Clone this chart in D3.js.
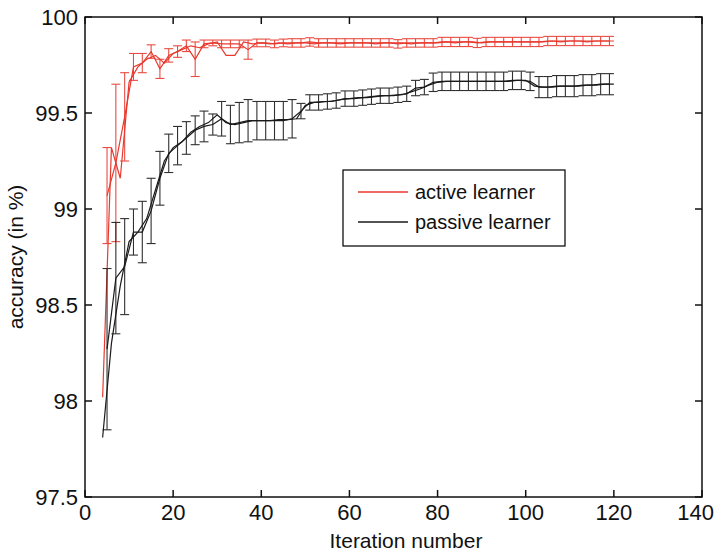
<!DOCTYPE html>
<html>
<head>
<meta charset="utf-8">
<script src="https://cdn.jsdelivr.net/npm/d3@7"></script>
<style>
  body { margin: 0; background: #fff; }
  text { font-family: "Liberation Sans", Arial, sans-serif; }
</style>
</head>
<body>
<script>
const width = 715;
const height = 554;

// iterations with error bars (odd) and for the plain trace (even)
const itersOdd = [5, 7, 9, 11, 13, 15, 17, 19, 21, 23, 25, 27, 29, 31, 33, 35, 37, 39, 41, 43, 45, 47, 49, 51, 53, 55, 57, 59, 61, 63, 65, 67, 69, 71, 73, 75, 77, 79, 81, 83, 85, 87, 89, 91, 93, 95, 97, 99, 101, 103, 105, 107, 109, 111, 113, 115, 117, 119];
const itersEven = [4, 6, 8, 10, 12, 14, 16, 18, 20, 22, 24, 26, 28, 30, 32, 34, 36, 38, 40, 42, 44, 46, 48, 50, 52, 54, 56, 58, 60, 62, 64, 66, 68, 70, 72, 74, 76, 78, 80, 82, 84, 86, 88, 90, 92, 94, 96, 98, 100, 102, 104, 106, 108, 110, 112, 114, 116, 118, 120];

// active learner
const activeMean = [99.07, 99.24, 99.48, 99.74, 99.76, 99.82, 99.73, 99.80, 99.82, 99.85, 99.78, 99.86, 99.865, 99.86, 99.86, 99.86, 99.83, 99.865, 99.865, 99.86, 99.865, 99.865, 99.865, 99.87, 99.865, 99.865, 99.865, 99.865, 99.865, 99.865, 99.865, 99.865, 99.865, 99.86, 99.865, 99.865, 99.865, 99.865, 99.87, 99.87, 99.87, 99.87, 99.865, 99.87, 99.87, 99.87, 99.87, 99.87, 99.87, 99.87, 99.875, 99.875, 99.875, 99.875, 99.875, 99.875, 99.875, 99.875];
const activeErr = [0.25, 0.41, 0.23, 0.07, 0.05, 0.035, 0.05, 0.035, 0.03, 0.03, 0.09, 0.02, 0.015, 0.02, 0.02, 0.02, 0.05, 0.02, 0.02, 0.02, 0.02, 0.022, 0.022, 0.022, 0.022, 0.022, 0.022, 0.022, 0.022, 0.022, 0.022, 0.022, 0.022, 0.022, 0.022, 0.022, 0.022, 0.022, 0.024, 0.024, 0.024, 0.024, 0.024, 0.024, 0.024, 0.024, 0.024, 0.024, 0.024, 0.024, 0.024, 0.024, 0.024, 0.024, 0.024, 0.024, 0.024, 0.024];
const activeTrace = [98.02, 99.32, 99.16, 99.66, 99.74, 99.78, 99.80, 99.76, 99.81, 99.83, 99.85, 99.84, 99.86, 99.87, 99.80, 99.80, 99.87, 99.86, 99.865, 99.86, 99.865, 99.86, 99.865, 99.865, 99.86, 99.865, 99.865, 99.86, 99.865, 99.865, 99.865, 99.86, 99.865, 99.865, 99.865, 99.86, 99.865, 99.865, 99.865, 99.87, 99.865, 99.87, 99.87, 99.865, 99.87, 99.87, 99.87, 99.87, 99.87, 99.87, 99.87, 99.875, 99.87, 99.875, 99.875, 99.87, 99.875, 99.875, 99.875];

// passive learner
const passiveMean = [98.27, 98.64, 98.70, 98.88, 98.88, 98.99, 99.16, 99.29, 99.33, 99.37, 99.41, 99.43, 99.44, 99.47, 99.44, 99.45, 99.46, 99.46, 99.46, 99.46, 99.46, 99.47, 99.51, 99.555, 99.555, 99.56, 99.565, 99.575, 99.575, 99.58, 99.585, 99.59, 99.59, 99.595, 99.60, 99.63, 99.635, 99.66, 99.665, 99.665, 99.665, 99.665, 99.665, 99.665, 99.665, 99.665, 99.67, 99.67, 99.665, 99.635, 99.635, 99.64, 99.64, 99.64, 99.645, 99.645, 99.65, 99.65];
const passiveErr = [0.42, 0.29, 0.25, 0.12, 0.16, 0.17, 0.14, 0.10, 0.10, 0.085, 0.075, 0.08, 0.055, 0.09, 0.10, 0.105, 0.11, 0.10, 0.10, 0.10, 0.10, 0.10, 0.04, 0.04, 0.04, 0.04, 0.04, 0.04, 0.04, 0.04, 0.04, 0.04, 0.04, 0.04, 0.04, 0.04, 0.04, 0.048, 0.048, 0.048, 0.048, 0.048, 0.048, 0.048, 0.048, 0.048, 0.048, 0.048, 0.048, 0.055, 0.055, 0.055, 0.055, 0.055, 0.055, 0.055, 0.055, 0.055];
const passiveTrace = [97.81, 98.30, 98.60, 98.83, 98.88, 98.95, 99.10, 99.25, 99.32, 99.35, 99.40, 99.43, 99.45, 99.49, 99.45, 99.44, 99.45, 99.46, 99.46, 99.46, 99.465, 99.465, 99.47, 99.54, 99.555, 99.56, 99.56, 99.57, 99.575, 99.58, 99.58, 99.585, 99.59, 99.59, 99.595, 99.61, 99.625, 99.645, 99.66, 99.665, 99.665, 99.665, 99.665, 99.665, 99.665, 99.665, 99.665, 99.67, 99.67, 99.64, 99.635, 99.635, 99.64, 99.64, 99.64, 99.645, 99.645, 99.65, 99.65];

const xTicks = [0, 20, 40, 60, 80, 100, 120, 140];
const yTicks = [97.5, 98, 98.5, 99, 99.5, 100];
const legendLabels = ['active learner', 'passive learner'];
const colors = ['#e8392e', '#1a1a1a'];

const margin = {top: 17, right: 13, bottom: 57, left: 85};
const iw = width - margin.left - margin.right;
const ih = height - margin.top - margin.bottom;

const svg = d3.select('body')
    .append('svg')
    .attr('width', width)
    .attr('height', height);

const x = d3.scaleLinear().domain([0, 140]).range([margin.left, margin.left + iw]);
const y = d3.scaleLinear().domain([97.5, 100]).range([margin.top + ih, margin.top]);

svg.append('clipPath').attr('id', 'plot')
    .append('rect')
    .attr('x', margin.left).attr('y', margin.top)
    .attr('width', iw).attr('height', ih);

const plot = svg.append('g').attr('clip-path', 'url(#plot)');

const series = [
    {mean: activeMean, err: activeErr, trace: activeTrace, color: colors[0]},
    {mean: passiveMean, err: passiveErr, trace: passiveTrace, color: colors[1]}
];

const line = d3.line().x(d => x(d[0])).y(d => y(d[1]));
const cap = 4.5;

series.forEach(s => {
    const g = plot.append('g');
    const pts = itersOdd.map((it, i) => [it, s.mean[i], s.err[i]]);
    const tr = itersEven.map((it, i) => [it, s.trace[i]]);

    // plain trace
    g.append('path')
        .attr('d', line(tr))
        .attr('fill', 'none')
        .attr('stroke', s.color)
        .attr('stroke-width', 1.2);

    // mean line with error bars
    g.append('path')
        .attr('d', line(pts))
        .attr('fill', 'none')
        .attr('stroke', s.color)
        .attr('stroke-width', 1.2);

    const bars = g.selectAll('g.bar')
        .data(pts)
        .enter()
        .append('g')
        .attr('stroke', s.color)
        .attr('stroke-width', 1.1)
        .attr('opacity', 0.9);

    bars.append('line')
        .attr('x1', d => x(d[0])).attr('x2', d => x(d[0]))
        .attr('y1', d => y(d[1] - d[2])).attr('y2', d => y(d[1] + d[2]));
    bars.append('line')
        .attr('x1', d => x(d[0]) - cap).attr('x2', d => x(d[0]) + cap)
        .attr('y1', d => y(d[1] + d[2])).attr('y2', d => y(d[1] + d[2]));
    bars.append('line')
        .attr('x1', d => x(d[0]) - cap).attr('x2', d => x(d[0]) + cap)
        .attr('y1', d => y(d[1] - d[2])).attr('y2', d => y(d[1] - d[2]));
});

// axes, matlab style: inward ticks on all four sides
const tickLen = 7;
const axes = svg.append('g').attr('stroke', '#111').attr('stroke-width', 1.5);

axes.selectAll('line.xt')
    .data(xTicks)
    .enter()
    .append('line')
    .attr('x1', d => x(d)).attr('x2', d => x(d))
    .attr('y1', margin.top + ih).attr('y2', margin.top + ih - tickLen);
axes.selectAll('line.xt2')
    .data(xTicks)
    .enter()
    .append('line')
    .attr('x1', d => x(d)).attr('x2', d => x(d))
    .attr('y1', margin.top).attr('y2', margin.top + tickLen);
axes.selectAll('line.yt')
    .data(yTicks)
    .enter()
    .append('line')
    .attr('x1', margin.left).attr('x2', margin.left + tickLen)
    .attr('y1', d => y(d)).attr('y2', d => y(d));
axes.selectAll('line.yt2')
    .data(yTicks)
    .enter()
    .append('line')
    .attr('x1', margin.left + iw).attr('x2', margin.left + iw - tickLen)
    .attr('y1', d => y(d)).attr('y2', d => y(d));

axes.append('rect')
    .attr('x', margin.left).attr('y', margin.top)
    .attr('width', iw).attr('height', ih)
    .attr('fill', 'none');

// x tick labels, the last one kept inside the window
const xLabels = svg.selectAll('text.xl')
    .data(xTicks)
    .enter()
    .append('text')
    .attr('x', d => x(d))
    .attr('y', margin.top + ih + 23)
    .attr('text-anchor', 'middle')
    .attr('font-size', 22)
    .attr('fill', '#111')
    .text(d => d);
xLabels.each(function() {
    const b = this.getBBox();
    if (b.x + b.width > width - 1) {
        d3.select(this).attr('x', +d3.select(this).attr('x') - (b.x + b.width - width + 1));
    }
});

svg.selectAll('text.yl')
    .data(yTicks)
    .enter()
    .append('text')
    .attr('x', margin.left - 7)
    .attr('y', d => y(d) + 8)
    .attr('text-anchor', 'end')
    .attr('font-size', 22)
    .attr('fill', '#111')
    .text(d => d);

svg.append('text')
    .attr('x', 406)
    .attr('y', 548)
    .attr('text-anchor', 'middle')
    .attr('font-size', 21)
    .attr('fill', '#111')
    .text('Iteration number');

svg.append('text')
    .attr('transform', `translate(23, ${margin.top + ih / 2}) rotate(-90)`)
    .attr('text-anchor', 'middle')
    .attr('font-size', 21)
    .attr('fill', '#111')
    .text('accuracy (in %)');

// legend
const legend = svg.append('g').attr('transform', 'translate(343, 170)');
legend.append('rect')
    .attr('width', 222).attr('height', 76)
    .attr('fill', '#fff')
    .attr('stroke', '#111')
    .attr('stroke-width', 1.3);

const items = legend.selectAll('g.item')
    .data(legendLabels)
    .enter()
    .append('g')
    .attr('transform', (d, i) => `translate(0, ${22 + i * 30})`);
items.append('line')
    .attr('x1', 15).attr('x2', 65)
    .attr('stroke', (d, i) => colors[i])
    .attr('stroke-width', 1.3);
items.append('text')
    .attr('x', 72).attr('y', 7)
    .attr('font-size', 20)
    .attr('fill', '#111')
    .text(d => d);
</script>
</body>
</html>
